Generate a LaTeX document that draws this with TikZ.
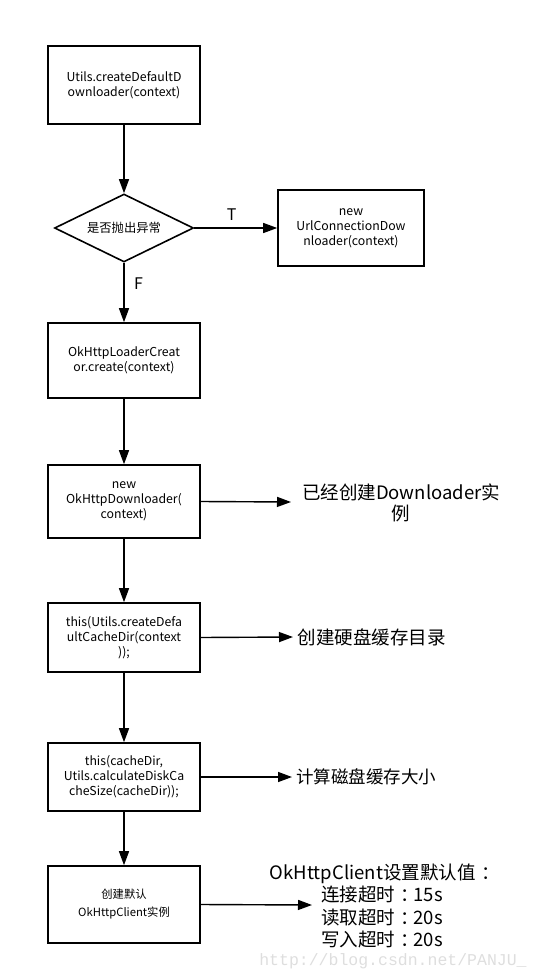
\documentclass[tikz,border=0pt]{standalone}
\usepackage{fontspec}
\setmainfont{Noto Sans CJK SC}
\newfontfamily\wmfont{Liberation Mono}
\usetikzlibrary{arrows.meta,shapes.geometric}
\newcommand{\fwc}{\kern.3em：\kern-.3em}
\begin{document}
\begin{tikzpicture}[x=1pt,y=-1pt,
  box/.style={draw,line width=1.6pt,minimum width=152pt,align=center,font=\fontsize{12.3}{15}\selectfont,inner sep=2pt},
  arr/.style={line width=1.4pt,-{Triangle[length=14pt,width=10pt]}},
  side/.style={align=center,font=\fontsize{18.5}{21}\selectfont,inner sep=0pt}]
\useasboundingbox (0,0) rectangle (539,979);
\node[box,minimum height=78pt] (b1) at (124,85) {Utils.createDefaultD\\ownloader(context)};
\node[draw,line width=1.6pt,diamond,aspect=2.05,minimum width=139pt,minimum height=68pt,inner sep=0pt,font=\fontsize{12.3}{15}\selectfont] (d) at (124,228) {是否抛出异常};
\node[box,minimum width=146pt,minimum height=76pt] (u) at (351,228) {new\\UrlConnectionDow\\nloader(context)};
\node[box,minimum height=75pt] (b2) at (124,360.5) {OkHttpLoaderCreat\\or.create(context)};
\node[box,minimum height=73pt] (b3) at (124,501.5) {new\\OkHttpDownloader(\\context)};
\node[box,minimum height=69pt] (b4) at (124,637.5) {this(Utils.createDefa\\ultCacheDir(context\\));};
\node[box,minimum height=68pt] (b5) at (124,777) {this(cacheDir,\\Utils.calculateDiskCa\\cheSize(cacheDir));};
\node[box,minimum height=77pt,font=\fontsize{11.3}{18}\selectfont] (b6) at (124,904.5) {创建默认\\OkHttpClient实例};
\node[side] (t3) at (401,503) {已经创建Downloader实\\例};
\node[side] (t4) at (371.5,637) {创建硬盘缓存目录};
\node[side,font=\fontsize{17.5}{20}\selectfont] (t5) at (366,777) {计算磁盘缓存大小};
\node[side,font=\fontsize{18.5}{22.5}\selectfont] (t6) at (382,906) {OkHttpClient设置默认值\fwc\\连接超时\fwc 15s\\读取超时\fwc 20s\\写入超时\fwc 20s};
\coordinate (e3) at (291,502);
\coordinate (e4) at (293,637);
\coordinate (e5) at (292,777);
\coordinate (e6) at (312,905);
\draw[arr] (b1) -- (d);
\draw[arr] (d) -- node[above=3pt,pos=0.45,font=\fontsize{16}{18}\selectfont] (T) {T} (u);
\draw[arr] (d) -- node[right=6pt,pos=0.35,font=\fontsize{16}{18}\selectfont] (F) {F} (b2);
\draw[arr] (b2) -- (b3);
\draw[arr] (b3) -- (b4);
\draw[arr] (b4) -- (b5);
\draw[arr] (b5) -- (b6);
\draw[arr] (b3.east) -- (e3);
\draw[arr] (b4.east) -- (e4);
\draw[arr] (b5.east) -- (e5);
\draw[arr] (b6.east) -- (e6);
\node[font=\wmfont\fontsize{16.5}{18}\selectfont,text=black!13,inner sep=0pt] (wm) at (393,961) {http://blog.csdn.net/PANJU\_};
\end{tikzpicture}
\end{document}
